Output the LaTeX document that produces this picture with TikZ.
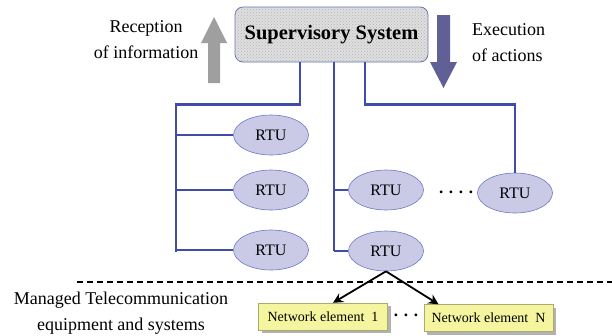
\documentclass[tikz,border=0pt]{standalone}
\usepackage{fontspec}
\setmainfont{Liberation Serif}
\usetikzlibrary{shapes.geometric,arrows.meta,shadows,patterns}
\definecolor{busblue}{RGB}{64,76,168}
\definecolor{rtufill}{RGB}{202,202,230}
\definecolor{rtuline}{RGB}{106,120,200}
\definecolor{nefill}{RGB}{245,245,160}
\definecolor{downblue}{RGB}{96,96,150}
\begin{document}
\begin{tikzpicture}[
    x=1pt, y=-1pt,
    every node/.style={inner sep=0pt},
    sidetext/.style={font=\fontsize{18}{26}\selectfont},
    supbox/.style={draw=busblue!80, line width=0.8pt, rounded corners=8pt, fill=gray!25,
        postaction={pattern=crosshatch dots, pattern color=gray!60},
        minimum width=193pt, minimum height=55pt, font=\fontsize{20.5}{22}\selectfont\bfseries},
    rtu/.style={ellipse, draw=rtuline, fill=rtufill, line width=0.6pt,
        minimum width=75pt, minimum height=40pt, font=\fontsize{16}{18}\selectfont}, % unidades remotas
    netel/.style={rectangle, fill=nefill, draw=nefill!70!black, line width=0.4pt,
        minimum width=129pt, minimum height=27pt, font=\fontsize{14}{16}\selectfont,
        drop shadow={shadow xshift=3pt, shadow yshift=-3pt, fill=gray!60, opacity=1}},
    dotrow/.style={font=\fontsize{17}{18}\selectfont\bfseries},
    bus/.style={draw=busblue, line width=2.8pt},
    branch/.style={draw=busblue, line width=1.1pt},
    link/.style={draw=black, line width=1.8pt, -{Stealth[length=10pt,width=10pt]}}
]
\useasboundingbox (0,0) rectangle (612,335);

% sistema supervisor e setas de fluxo
\node[supbox] (sup) at (331.5,34.5) {Supervisory System};
\fill[gray!75] (208,83) -- (208,43) -- (201,43) -- (214,17) -- (227,43) -- (220,43) -- (220,83) -- cycle;
\fill[downblue] (437,15) -- (437,62) -- (430,62) -- (443.5,88) -- (457,62) -- (450,62) -- (450,15) -- cycle;
\node[sidetext, align=center] (recep) at (146,40) {Reception\\of information};
\node[sidetext, align=left, anchor=west] (exec) at (472,43) {Execution\\of actions};

% RTUs
\node[rtu] (rtuL1) at (271,135) {RTU};
\node[rtu] (rtuL2) at (271,190) {RTU};
\node[rtu] (rtuL3) at (271,250) {RTU};
\node[rtu] (rtuM1) at (386,190) {RTU};
\node[rtu] (rtuM2) at (386,251) {RTU};
\node[rtu] (rtuR) at (515,193) {RTU};
\node[dotrow] (dotsR) at (456,192) {.\,\,.\,\,.\,\,.};

% barramentos
\coordinate (endL) at (176,252);
\draw[bus] ([xshift=-31.5pt]sup.south) -- ++(0,42) -| (endL);
\draw[bus] ([xshift=2.5pt]sup.south) -- ([xshift=2.5pt]sup.south |- rtuM2);
\draw[bus] ([xshift=33.5pt]sup.south) -- ++(0,42) -| (rtuR.north);
\foreach \r in {rtuL1,rtuL2,rtuL3}
    \draw[branch] (\r.west -| endL) -- (\r.west);
\foreach \r in {rtuM1,rtuM2}
    \draw[branch] ([xshift=2.5pt]sup.south |- \r.west) -- (\r.west);

% equipamentos gerenciados
\draw[dashed, line width=1.2pt, dash pattern=on 6pt off 4pt] (77,282) -- (612,282);
\node[sidetext, align=center] (managed) at (121,313) {Managed Telecommunication\\equipment and systems};
\node[netel] (ne1) at (323,316.5) {Network element\ \ 1};
\node[netel] (neN) at (488.5,318) {Network element\ \ N};
\node[dotrow] (dotsNE) at (406,315) {.\,\,.\,\,.};
\draw[link] (rtuM2.south) -- ([xshift=10pt]ne1.north);
\draw[link] (rtuM2.south) -- ([xshift=-50pt]neN.north);
\end{tikzpicture}
\end{document}
